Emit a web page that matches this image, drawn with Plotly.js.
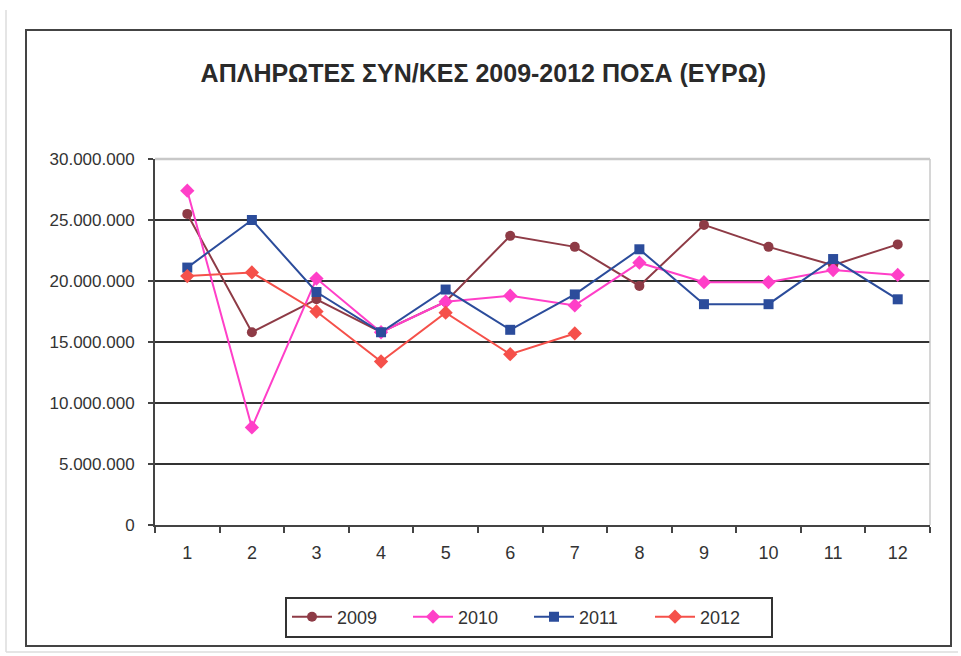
<!DOCTYPE html>
<html>
<head>
<meta charset="utf-8">
<script src="https://cdn.plot.ly/plotly-3.0.1.min.js"></script>
<style>
html,body{margin:0;padding:0;background:#fff;}
#chart{width:961px;height:656px;}
</style>
</head>
<body>
<div id="chart"></div>
<script>
const months = ["1","2","3","4","5","6","7","8","9","10","11","12"];
const y2009 = [25500000, 15800000, 18500000, 15800000, 18300000, 23700000, 22800000, 19600000, 24600000, 22800000, 21300000, 23000000];
const y2010 = [27400000, 8000000, 20200000, 15800000, 18300000, 18800000, 18000000, 21500000, 19900000, 19900000, 20900000, 20500000];
const y2011 = [21100000, 25000000, 19100000, 15800000, 19300000, 16000000, 18900000, 22600000, 18100000, 18100000, 21800000, 18500000];
const y2012 = [20400000, 20700000, 17500000, 13400000, 17400000, 14000000, 15700000];
const seriesNames = ["2009","2010","2011","2012"];
const yTickVals = [0, 5000000, 10000000, 15000000, 20000000, 25000000, 30000000];
const yTickText = ["0","5.000.000","10.000.000","15.000.000","20.000.000","25.000.000","30.000.000"];
const titleText = "ΑΠΛΗΡΩΤΕΣ ΣΥΝ/ΚΕΣ 2009-2012 ΠΟΣΑ (ΕΥΡΩ)";

const FONT = "Liberation Sans, Arial, sans-serif";

function tr(name, ys, color, symbol, size){
  return {
    x: months.slice(0, ys.length), y: ys, name: name, type: "scatter", mode: "lines+markers",
    line: {color: color, width: 2},
    marker: {color: color, symbol: symbol, size: size}
  };
}

const data = [
  tr(seriesNames[0], y2009, "#8E3B46", "circle", 10),
  tr(seriesNames[1], y2010, "#FF3FC8", "diamond", 11),
  tr(seriesNames[2], y2011, "#2B4C9B", "square", 10),
  tr(seriesNames[3], y2012, "#F5504A", "diamond", 11)
];

const px = v => (v - 155) / 775;
const py = v => (525 - v) / 366;

const layout = {
  width: 961, height: 656,
  margin: {l: 155, r: 31, t: 159, b: 131},
  paper_bgcolor: "#fff", plot_bgcolor: "#fff",
  showlegend: true,
  font: {family: FONT, color: "#333", size: 18},
  title: {
    text: titleText,
    font: {family: FONT, size: 25, weight: "bold", color: "#2a2a2a"},
    xref: "container", x: 0.503, xanchor: "center",
    yref: "container", y: 1 - 73/656, yanchor: "middle"
  },
  xaxis: {
    type: "category",
    range: [-0.5, 11.5],
    tickson: "boundaries",
    ticks: "outside", ticklen: 6, tickwidth: 2, tickcolor: "#444",
    showline: true, linecolor: "#444", linewidth: 2,
    showgrid: false, zeroline: false,
    tickfont: {family: FONT, size: 18, color: "#333"},
    ticklabelstandoff: 10,
    fixedrange: true
  },
  yaxis: {
    range: [0, 30000000],
    tickvals: yTickVals, ticktext: yTickText,
    ticks: "outside", ticklen: 5, tickwidth: 2, tickcolor: "#444",
    showline: true, linecolor: "#444", linewidth: 2,
    showgrid: true, gridcolor: "#333", gridwidth: 2,
    zeroline: false,
    tickfont: {family: FONT, size: 17, color: "#333"},
    ticklabelstandoff: 10,
    fixedrange: true
  },
  legend: {
    orientation: "h",
    x: px(529), xanchor: "center",
    y: py(617), yanchor: "middle",
    bordercolor: "#333", borderwidth: 2, bgcolor: "#fff",
    font: {family: FONT, size: 18, color: "#333"},
    itemwidth: 40,
    entrywidth: 66, entrywidthmode: "pixels",
    tracegroupgap: 0
  },
  shapes: [
    {type: "line", xref: "paper", yref: "paper", x0: 0, x1: 1, y0: 1, y1: 1, line: {color: "#c8c8c8", width: 2.5}, layer: "above"},
    {type: "line", xref: "paper", yref: "paper", x0: 1, x1: 1, y0: 0, y1: 1, line: {color: "#c8c8c8", width: 1.5}, layer: "above"},
    {type: "rect", xref: "paper", yref: "paper", x0: px(26), x1: px(951), y0: py(646), y1: py(30), line: {color: "#444", width: 2}, layer: "below"},
    {type: "line", xref: "paper", yref: "paper", x0: px(6), x1: px(6), y0: py(652), y1: py(10), line: {color: "#ddd", width: 1.5}},
    {type: "line", xref: "paper", yref: "paper", x0: px(6), x1: px(958), y0: py(652), y1: py(652), line: {color: "#ddd", width: 1.5}}
  ]
};

Plotly.newPlot("chart", data, layout, {displayModeBar: false, staticPlot: true});
</script>
</body>
</html>
